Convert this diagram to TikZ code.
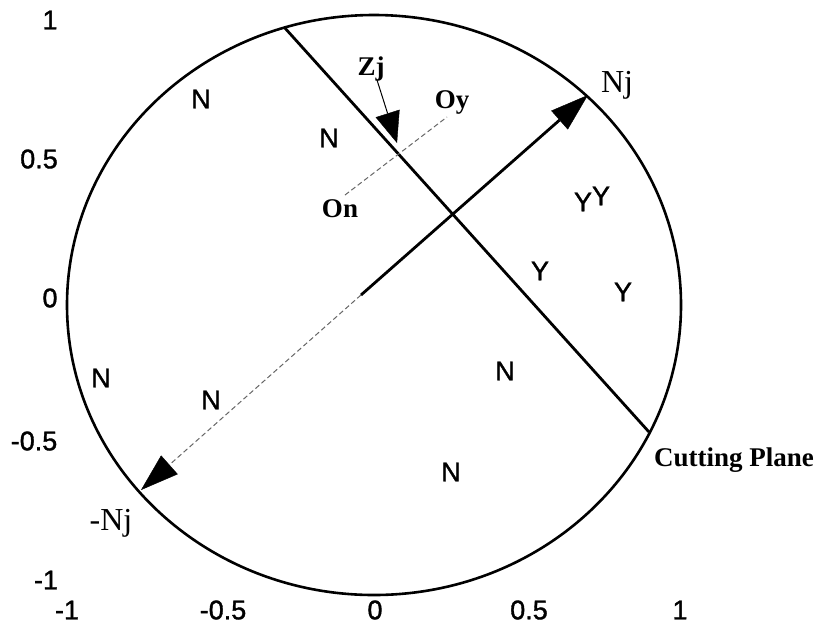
\documentclass[tikz,border=0pt]{standalone}
\usepackage{fontspec}
\setmainfont{Liberation Serif}
\newfontfamily\labsans[FakeBold=1.3]{Liberation Sans}
\usetikzlibrary{arrows.meta}
\begin{document}
\begin{tikzpicture}[x=1pt,y=-1pt,
  rim/.style={line width=2.6pt},
  heavy/.style={line width=2.8pt},
  bigtip/.style={-{Triangle[length=38pt,width=25pt,line width=0.4pt,color=black]}},
  smalltip/.style={-{Triangle[length=31pt,width=25pt,line width=0.4pt,color=black]}},
  dashline/.style={line width=1pt, draw=black!60, dash pattern=on 5pt off 3pt},
  sanslab/.style={font=\labsans\fontsize{27}{27}\selectfont, inner sep=0pt},
  boldlab/.style={font=\bfseries\fontsize{27}{27}\selectfont, inner sep=0pt},
  njlab/.style={font=\fontsize{32}{32}\selectfont, inner sep=0pt}]
\useasboundingbox[fill=white] (0,0) rectangle (818,625);
% unit circle (drawn as ellipse)
\draw[rim] (374,305) ellipse [x radius=307pt, y radius=290pt];
% key points
\coordinate (cut1) at (284,27);
\coordinate (cut2) at (649,432);
\coordinate (org) at (361,295);
\coordinate (njtip) at (588,95);
\coordinate (mnjtip) at (141,490);
\coordinate (zjs) at (377,80);
\coordinate (zjtip) at (397,143);
\coordinate (on) at (345,195);
\coordinate (oy) at (447,117);
% lines
\draw[heavy] (cut1) -- (cut2);
\draw[heavy, bigtip] (org) -- (njtip);
\draw[dashline, bigtip] (org) -- (mnjtip);
\draw[line width=1pt, smalltip] (zjs) -- (zjtip);
\draw[dashline] (on) -- (oy);
% serif labels
\node[njlab, anchor=base] (lnj) at (617,92) {Nj};
\node[njlab, anchor=base] (lmnj) at (111,530) {-Nj};
\node[boldlab, anchor=base] (lzj) at (371,75) {Zj};
\node[boldlab, anchor=base] (loy) at (452,108) {Oy};
\node[boldlab, anchor=base] (lon) at (340,217) {On};
\node[boldlab, anchor=base west] (lcp) at (654,466) {Cutting Plane};
% region labels
\node[sanslab] (n1) at (201,99) {N};
\node[sanslab] (n2) at (329,138) {N};
\node[sanslab] (n3) at (101,378) {N};
\node[sanslab] (n4) at (211,400) {N};
\node[sanslab] (n5) at (505,371) {N};
\node[sanslab] (n6) at (451,472) {N};
\node[sanslab] (y1) at (583,202) {Y};
\node[sanslab] (y2) at (601,196) {Y};
\node[sanslab] (y3) at (540,271) {Y};
\node[sanslab] (y4) at (623,292) {Y};
% axis labels
\node[sanslab] (ay1) at (50,20) {1};
\node[sanslab] (ay2) at (39,159) {0.5};
\node[sanslab] (ay3) at (50,298) {0};
\node[sanslab] (ay4) at (34,441) {-0.5};
\node[sanslab] (ay5) at (46,580) {-1};
\node[sanslab] (ax1) at (67,610) {-1};
\node[sanslab] (ax2) at (223,610) {-0.5};
\node[sanslab] (ax3) at (375,610) {0};
\node[sanslab] (ax4) at (529,610) {0.5};
\node[sanslab] (ax5) at (680,610) {1};
\end{tikzpicture}
\end{document}
